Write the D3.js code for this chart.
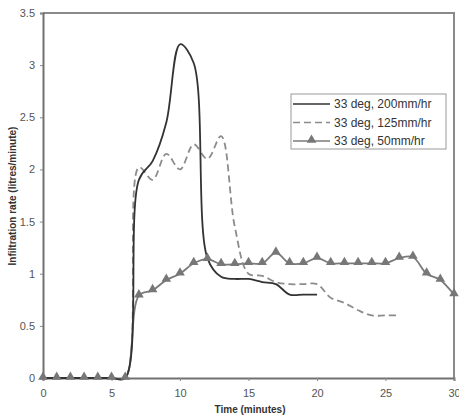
<!DOCTYPE html>
<html>
<head>
<meta charset="utf-8">
<script src="https://cdn.jsdelivr.net/npm/d3@7/dist/d3.min.js"></script>
<style>
  body { margin: 0; background: #fff; }
  svg { display: block; font-family: "Liberation Sans", Arial, sans-serif; }
</style>
</head>
<body>
<svg id="chart" width="459" height="416"></svg>
<script>
// Time axis (minutes) for each series
const minutes200 = [0,1,2,3,4,5,6,7,8,9,10,11,12,13,14,15,16,17,18,19,20];
const rate200    = [0,0,0,0,0,0,0,1.9,2.08,2.45,3.2,3.02,1.15,0.97,0.95,0.95,0.92,0.9,0.8,0.8,0.8];

const minutes125 = [0,1,2,3,4,5,6,7,8,9,10,11,12,13,14,15,16,17,18,19,20,21,22,23,24,25,26];
const rate125    = [0,0,0,0,0,0,0,2.02,1.9,2.15,2.0,2.24,2.1,2.32,1.45,1.0,0.98,0.92,0.9,0.9,0.9,0.77,0.72,0.65,0.6,0.6,0.6];

const minutes50  = [0,1,2,3,4,5,6,7,8,9,10,11,12,13,14,15,16,17,18,19,20,21,22,23,24,25,26,27,28,29,30];
const rate50     = [0,0,0,0,0,0,0,0.79,0.84,0.94,1.0,1.1,1.14,1.09,1.09,1.1,1.1,1.2,1.1,1.1,1.15,1.1,1.1,1.1,1.1,1.1,1.15,1.16,1.0,0.94,0.8];

const seriesNames = ["33 deg, 200mm/hr", "33 deg, 125mm/hr", "33 deg, 50mm/hr"];
const xTicks = [0,5,10,15,20,25,30];
const yTicks = [0,0.5,1,1.5,2,2.5,3,3.5];

const svg = d3.select("#chart");
const plotLeft = 43, plotRight = 454, plotTop = 13, plotBottom = 378;

const x = d3.scaleLinear().domain([0, 30]).range([plotLeft, plotRight]);
const y = d3.scaleLinear().domain([0, 3.5]).range([plotBottom, plotTop]);

// Frame: top and right sides
svg.append("path")
  .attr("d", `M${plotLeft},${plotTop}H${plotRight}V${plotBottom}`)
  .attr("fill", "none").attr("stroke", "#8a8a8a").attr("stroke-width", 2);

// Y axis
const yAxis = svg.append("g").attr("transform", `translate(${plotLeft},0)`)
  .call(d3.axisLeft(y).tickValues(yTicks).tickSize(3).tickPadding(5)
    .tickFormat(d => d3.format("")(d)));
yAxis.select(".domain").attr("stroke", "#707070").attr("stroke-width", 2);
yAxis.selectAll(".tick line").attr("stroke", "#888");
yAxis.selectAll("text").attr("fill", "#555").style("font-size", "11px");

// X axis
const xAxis = svg.append("g").attr("transform", `translate(0,${plotBottom})`)
  .call(d3.axisBottom(x).tickValues(xTicks).tickSize(3).tickPadding(8));
xAxis.select(".domain").attr("stroke", "#707070").attr("stroke-width", 2);
xAxis.selectAll(".tick line").attr("stroke", "#888");
xAxis.selectAll("text").attr("fill", "#555").style("font-size", "11px");

// Axis titles
svg.append("text")
  .attr("x", 250).attr("y", 413).attr("text-anchor", "middle")
  .style("font-size", "10px").style("font-weight", "bold").attr("fill", "#333")
  .text("Time (minutes)");
svg.append("text")
  .attr("transform", "translate(16,196) rotate(-90)").attr("text-anchor", "middle")
  .style("font-size", "10px").style("font-weight", "bold").attr("fill", "#333")
  .text("Infiltration rate (litres/minute)");

const line = d3.line()
  .x(d => x(d[0])).y(d => y(d[1]))
  .curve(d3.curveCatmullRom.alpha(0.5));

const styles = [
  { color: "#333", dash: null, width: 1.8 },
  { color: "#8c8c8c", dash: "7,4", width: 1.8 },
  { color: "#7a7a7a", dash: null, width: 1.8 }
];

const data200 = d3.zip(minutes200, rate200);
const data125 = d3.zip(minutes125, rate125);
const data50  = d3.zip(minutes50, rate50);

svg.append("path").datum(data50).attr("d", line)
  .attr("fill", "none").attr("stroke", styles[2].color).attr("stroke-width", styles[2].width);
svg.append("path").datum(data125).attr("d", line)
  .attr("fill", "none").attr("stroke", styles[1].color).attr("stroke-width", styles[1].width)
  .attr("stroke-dasharray", styles[1].dash);
svg.append("path").datum(data200).attr("d", line)
  .attr("fill", "none").attr("stroke", styles[0].color).attr("stroke-width", styles[0].width);

const tri = d3.symbol().type(d3.symbolTriangle).size(40);
svg.append("g").selectAll("path").data(data50).join("path")
  .attr("d", tri)
  .attr("transform", d => `translate(${x(d[0])},${y(d[1]) - 1})`)
  .attr("fill", "#777");

// Legend
const lg = svg.append("g");
lg.append("rect").attr("x", 291).attr("y", 94).attr("width", 155).attr("height", 55)
  .attr("fill", "#fff").attr("stroke", "#999").attr("stroke-width", 1);
seriesNames.forEach((name, i) => {
  const ly = 104 + i * 18.5;
  const s = styles[i];
  lg.append("line").attr("x1", 293).attr("x2", 330).attr("y1", ly).attr("y2", ly)
    .attr("stroke", s.color).attr("stroke-width", 1.6)
    .attr("stroke-dasharray", s.dash);
  if (i === 2) {
    lg.append("path").attr("d", tri).attr("transform", `translate(311.5,${ly - 1})`).attr("fill", "#777");
  }
  lg.append("text").attr("x", 334).attr("y", ly + 4)
    .style("font-size", "12px").attr("fill", "#333").text(name);
});
</script>
</body>
</html>
